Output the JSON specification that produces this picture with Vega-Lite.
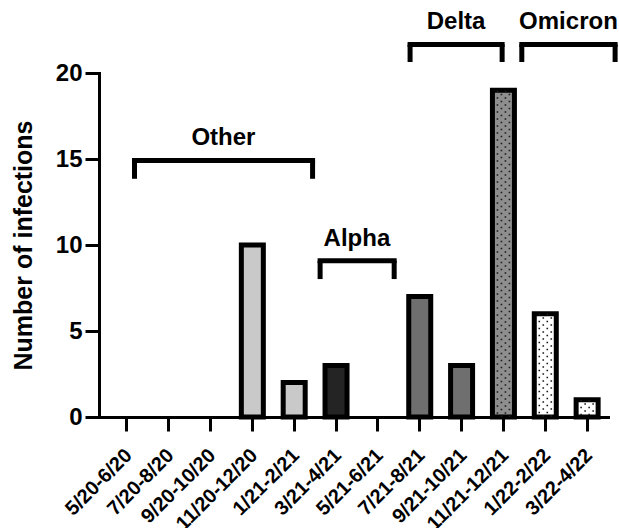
{
  "$schema": "https://vega.github.io/schema/vega-lite/v6.json",
  "width": 509,
  "height": 344,
  "autosize": {"type": "none"},
  "padding": {"left": 99, "top": 73, "right": 11, "bottom": 111},
  "background": "white",
  "config": {
    "view": {"stroke": null},
    "font": "Liberation Sans",
    "axisY": {
      "grid": false,
      "domainColor": "black",
      "domainWidth": 3,
      "domainCap": "square",
      "tickColor": "black",
      "tickWidth": 3,
      "tickSize": 14,
      "labelFont": "Liberation Sans",
      "labelFontWeight": "bold",
      "labelFontSize": 24,
      "labelColor": "black",
      "labelPadding": 3,
      "titleFont": "Liberation Sans",
      "titleFontWeight": "bold",
      "titleFontSize": 25,
      "titleColor": "black",
      "titleAngle": -90,
      "titleAlign": "center",
      "titleBaseline": "alphabetic",
      "titleX": -68,
      "titleY": 172
    },
    "axisX": {
      "domainColor": "black",
      "domainWidth": 3,
      "domainCap": "square",
      "tickColor": "black",
      "tickWidth": 3,
      "tickSize": 14,
      "labelAngle": -45,
      "labelAlign": "right",
      "labelBaseline": "middle",
      "labelFont": "Liberation Sans",
      "labelFontWeight": "bold",
      "labelFontSize": 20,
      "labelColor": "black",
      "labelPadding": 21,
      "labelOffset": 2,
      "labelOverlap": false,
      "labelLimit": 0
    }
  },
  "datasets": {
    "bars": [
      {"period": "5/20-6/20", "infections": 0, "variant": "Other"},
      {"period": "7/20-8/20", "infections": 0, "variant": "Other"},
      {"period": "9/20-10/20", "infections": 0, "variant": "Other"},
      {"period": "11/20-12/20", "infections": 10, "variant": "Other"},
      {"period": "1/21-2/21", "infections": 2, "variant": "Other"},
      {"period": "3/21-4/21", "infections": 3, "variant": "Alpha"},
      {"period": "5/21-6/21", "infections": 0, "variant": "Alpha"},
      {"period": "7/21-8/21", "infections": 7, "variant": "Delta"},
      {"period": "9/21-10/21", "infections": 3, "variant": "Delta"},
      {"period": "11/21-12/21", "infections": 19, "variant": "Delta/Omicron"},
      {"period": "1/22-2/22", "infections": 6, "variant": "Omicron"},
      {"period": "3/22-4/22", "infections": 1, "variant": "Omicron"}
    ],
    "brackets": [
      {"label": "Other", "start": 0.184, "end": 4.44, "level": 14.91, "tip": 13.85, "mid": 2.31, "textY": 15.81},
      {"label": "Alpha", "start": 4.62, "end": 6.39, "level": 9.08, "tip": 8.02, "mid": 5.5, "textY": 9.95},
      {"label": "Delta", "start": 6.77, "end": 8.97, "level": 21.66, "tip": 20.64, "mid": 7.87, "textY": 22.56},
      {"label": "Omicron", "start": 9.44, "end": 11.67, "level": 21.66, "tip": 20.64, "mid": 10.555, "textY": 22.56}
    ]
  },
  "layer": [
    {
      "data": {"name": "bars"},
      "encoding": {
        "x": {
          "field": "period",
          "type": "nominal",
          "title": null,
          "scale": {
            "domain": ["5/20-6/20", "7/20-8/20", "9/20-10/20", "11/20-12/20", "1/21-2/21", "3/21-4/21", "5/21-6/21", "7/21-8/21", "9/21-10/21", "11/21-12/21", "1/22-2/22", "3/22-4/22"],
            "paddingInner": 0.4,
            "paddingOuter": 0.2815,
            "align": 0.647
          }
        },
        "y": {
          "field": "infections",
          "type": "quantitative",
          "title": "Number of infections",
          "scale": {"domain": [0, 20], "nice": false},
          "axis": {"values": [0, 5, 10, 15, 20]}
        }
      },
      "layer": [
        {
          "transform": [{"filter": "datum.infections > 0"}],
          "mark": {"type": "bar", "width": 22, "stroke": "black", "strokeWidth": 5, "strokeJoin": "miter"},
          "encoding": {
            "fill": {
              "field": "variant",
              "type": "nominal",
              "scale": {"domain": ["Other", "Alpha", "Delta", "Delta/Omicron", "Omicron"], "range": ["#c9c9c9", "#242424", "#6f6f6f", "#8e8e8e", "#ffffff"]},
              "legend": null
            }
          }
        },
        {
          "transform": [{"filter": "datum.variant == 'Delta/Omicron' || datum.variant == 'Omicron'"}],
          "mark": {"type": "rule", "xOffset": -6, "strokeDash": [1.5, 5.5], "strokeDashOffset": 0, "strokeWidth": 1.6, "color": "#1a1a1a"},
          "encoding": {"y2": {"datum": 0}}
        },
        {
          "transform": [{"filter": "datum.variant == 'Delta/Omicron' || datum.variant == 'Omicron'"}],
          "mark": {"type": "rule", "xOffset": -2, "strokeDash": [1.5, 5.5], "strokeDashOffset": 3.5, "strokeWidth": 1.6, "color": "#1a1a1a"},
          "encoding": {"y2": {"datum": 0}}
        },
        {
          "transform": [{"filter": "datum.variant == 'Delta/Omicron' || datum.variant == 'Omicron'"}],
          "mark": {"type": "rule", "xOffset": 2, "strokeDash": [1.5, 5.5], "strokeDashOffset": 0, "strokeWidth": 1.6, "color": "#1a1a1a"},
          "encoding": {"y2": {"datum": 0}}
        },
        {
          "transform": [{"filter": "datum.variant == 'Delta/Omicron' || datum.variant == 'Omicron'"}],
          "mark": {"type": "rule", "xOffset": 6, "strokeDash": [1.5, 5.5], "strokeDashOffset": 3.5, "strokeWidth": 1.6, "color": "#1a1a1a"},
          "encoding": {"y2": {"datum": 0}}
        }
      ]
    },
    {
      "data": {"name": "brackets"},
      "layer": [
        {
          "mark": {"type": "rule", "strokeWidth": 5, "strokeCap": "square", "color": "black"},
          "encoding": {
            "x": {"field": "start", "type": "quantitative", "scale": {"domain": [-0.664, 11.5], "nice": false, "zero": false}, "axis": null},
            "x2": {"field": "end"},
            "y": {"field": "level", "type": "quantitative", "title": "Number of infections", "scale": {"domain": [0, 20], "nice": false}, "axis": {"values": [0, 5, 10, 15, 20]}}
          }
        },
        {
          "mark": {"type": "rule", "strokeWidth": 5, "color": "black"},
          "encoding": {
            "x": {"field": "start", "type": "quantitative", "scale": {"domain": [-0.664, 11.5], "nice": false, "zero": false}, "axis": null},
            "y": {"field": "level", "type": "quantitative", "title": "Number of infections", "scale": {"domain": [0, 20], "nice": false}, "axis": {"values": [0, 5, 10, 15, 20]}},
            "y2": {"field": "tip"}
          }
        },
        {
          "mark": {"type": "rule", "strokeWidth": 5, "color": "black"},
          "encoding": {
            "x": {"field": "end", "type": "quantitative", "scale": {"domain": [-0.664, 11.5], "nice": false, "zero": false}, "axis": null},
            "y": {"field": "level", "type": "quantitative", "title": "Number of infections", "scale": {"domain": [0, 20], "nice": false}, "axis": {"values": [0, 5, 10, 15, 20]}},
            "y2": {"field": "tip"}
          }
        },
        {
          "mark": {"type": "text", "font": "Liberation Sans", "fontWeight": "bold", "fontSize": 24, "align": "center", "baseline": "alphabetic", "color": "black"},
          "encoding": {
            "x": {"field": "mid", "type": "quantitative", "scale": {"domain": [-0.664, 11.5], "nice": false, "zero": false}, "axis": null},
            "y": {"field": "textY", "type": "quantitative", "title": "Number of infections", "scale": {"domain": [0, 20], "nice": false}, "axis": {"values": [0, 5, 10, 15, 20]}},
            "text": {"field": "label"}
          }
        }
      ]
    }
  ],
  "resolve": {"scale": {"x": "independent"}}
}
